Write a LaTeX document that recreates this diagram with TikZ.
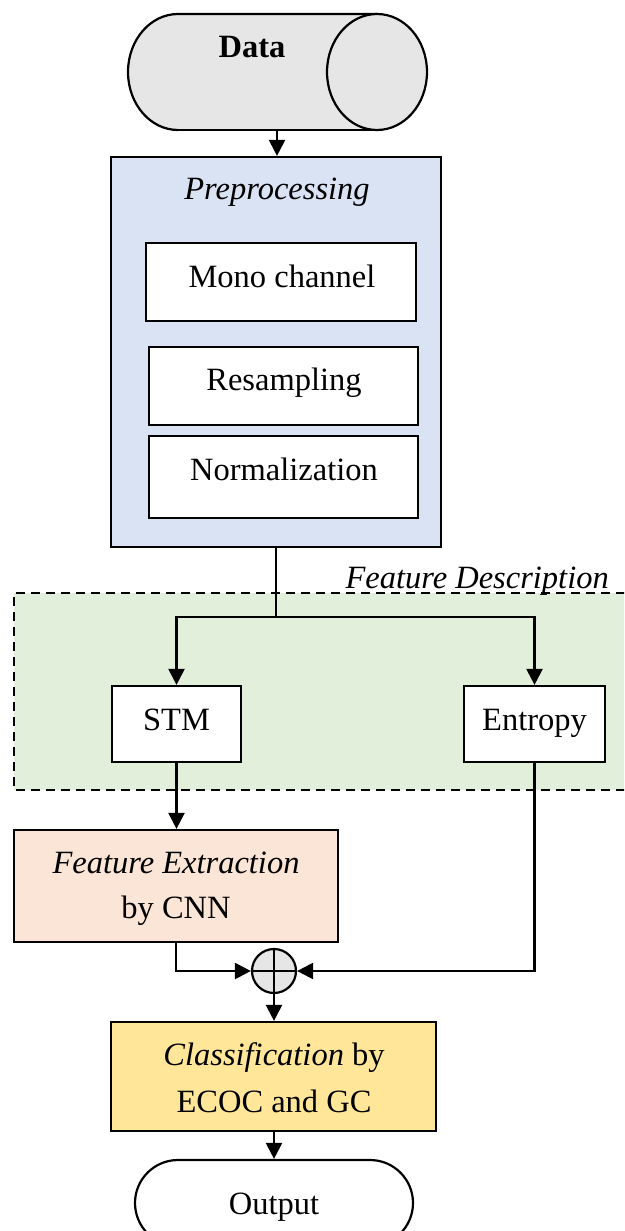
\documentclass[tikz,border=0pt]{standalone}
\usepackage{fontspec}
\setmainfont{Liberation Serif}
\usetikzlibrary{arrows.meta,shapes.misc}
\definecolor{gray1}{HTML}{E6E6E6}
\definecolor{blue1}{HTML}{DAE3F3}
\definecolor{green1}{HTML}{E2EFDA}
\definecolor{peach1}{HTML}{FBE5D6}
\definecolor{yellow1}{HTML}{FFE699}
\tikzset{
  box/.style={draw, line width=2.2pt, rectangle, inner sep=0pt},
  txt/.style={inner sep=0pt, anchor=base, font=\fontsize{32.5}{38}\selectfont},
  arr/.style={line width=2.2pt, -{Triangle[length=16pt,width=16pt]}},
  ln/.style={line width=2.2pt}
}
\begin{document}
\begin{tikzpicture}[x=1pt,y=-1pt]
\useasboundingbox (0,0) rectangle (624,1231);
\clip (0,0) rectangle (624,1231);
% green dashed region
\fill[green1] (14,593) rectangle (640,790);
\draw[line width=2.2pt, dash pattern=on 9pt off 6pt] (640,593) -- (14,593) -- (14,790) -- (640,790);
\node[txt, anchor=base east, font=\fontsize{32.5}{38}\selectfont\itshape] (fdlabel) at (609,588) {Feature Description};
% data cylinder
\fill[gray1] (178,14) rectangle (377,130);
\fill[gray1] (178,72) ellipse [x radius=50, y radius=58];
\draw[ln, fill=gray1] (178,130) arc[start angle=90, end angle=270, x radius=50, y radius=58] -- (377,14);
\draw[ln] (178,130) -- (377,130);
\draw[ln, fill=gray1] (377,72) ellipse [x radius=50, y radius=58];
\node[inner sep=0pt, minimum width=299pt, minimum height=116pt] (data) at (277.5,72) {};
\node[txt, font=\fontsize{32.5}{38}\selectfont\bfseries] (datalabel) at (252,58) {Data};
% preprocessing
\node[box, fill=blue1, minimum width=330pt, minimum height=390pt] (pre) at (276,352) {};
\node[txt, font=\fontsize{32.5}{38}\selectfont\itshape] (pretitle) at (277,199) {Preprocessing};
\node[box, fill=white, minimum width=270pt, minimum height=78pt] (mono) at (281,282) {};
\node[txt] (monot) at (282,287) {Mono channel};
\node[box, fill=white, minimum width=269pt, minimum height=78pt] (res) at (283.5,386) {};
\node[txt] (rest) at (284,390) {Resampling};
\node[box, fill=white, minimum width=269pt, minimum height=82pt] (norm) at (283.5,477) {};
\node[txt] (normt) at (284,480) {Normalization};
\draw[arr] (data.south -| 277,0) -- (pre.north -| 277,0);
% feature boxes
\node[box, fill=white, minimum width=129pt, minimum height=76pt] (stm) at (176.5,724) {};
\node[txt] (stmt) at (176.5,730) {STM};
\node[box, fill=white, minimum width=141pt, minimum height=76pt] (ent) at (534.5,724) {};
\node[txt] (entt) at (534.5,730) {Entropy};
\coordinate (split) at (276,617);
\draw[ln] (pre.south) -- (split);
\draw[arr] (split) -| (stm.north);
\draw[arr] (split) -| (ent.north);
% feature extraction
\node[box, fill=peach1, minimum width=324pt, minimum height=112pt] (fe) at (176,886) {};
\node[txt, font=\fontsize{32.5}{38}\selectfont\itshape] (fet1) at (176,873) {Feature Extraction};
\node[txt] (fet2) at (176,918) {by CNN};
\draw[arr] (stm.south) -- (stm.south |- fe.north);
% plus
\node[draw, circle, line width=2.2pt, fill=gray1, minimum size=44pt, inner sep=0pt] (plus) at (274,971) {};
\draw[ln] (plus.north) -- (plus.south);
\draw[ln] (plus.west) -- (plus.east);
\draw[arr] (fe.south) |- (plus.west);
\draw[arr] (ent.south) |- (plus.east);
% classification
\node[box, fill=yellow1, minimum width=325pt, minimum height=109pt] (cls) at (273.5,1076.5) {};
\node[txt] (clst1) at (274,1065) {\textit{Classification} by};
\node[txt] (clst2) at (274,1112) {ECOC and GC};
\draw[arr] (plus.south) -- (plus.south |- cls.north);
% output
\node[box, rounded rectangle, fill=white, minimum width=278pt, minimum height=86pt] (out) at (274,1203) {};
\node[txt] (outt) at (274,1214) {Output};
\draw[arr] (cls.south -| out.north) -- (out.north);
\end{tikzpicture}
\end{document}
